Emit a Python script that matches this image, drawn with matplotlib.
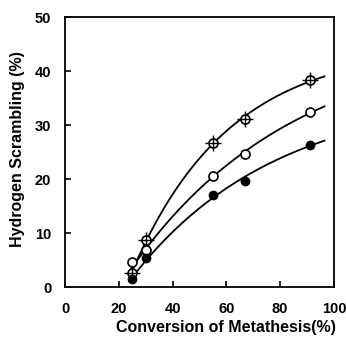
#!/usr/bin/env python3
"""Hydrogen scrambling vs. conversion of metathesis (three runs)."""
import numpy as np
import matplotlib
matplotlib.use("Agg")
import matplotlib.pyplot as plt

conv = [25, 30, 55, 67, 91]
scr_cross = [2.6, 8.8, 26.7, 31.2, 38.3]
scr_open = [4.6, 6.8, 20.6, 24.7, 32.4]
scr_filled = [1.5, 5.3, 17.0, 19.7, 26.4]

x_ticks = [0, 20, 40, 60, 80, 100]
y_ticks = [0, 10, 20, 30, 40, 50]


def fit_curve(x, y, start, stop):
    # saturating fit y = A * (1 - exp(-k (x - x0))), grid over k and x0
    x = np.asarray(x, float)
    y = np.asarray(y, float)
    best = None
    for x0 in np.linspace(20, 24.5, 19):
        for k in np.linspace(0.002, 0.08, 300):
            g = 1 - np.exp(-k * (x - x0))
            A = (g @ y) / (g @ g)
            err = np.sum((A * g - y) ** 2)
            if best is None or err < best[0]:
                best = (err, k, A, x0)
    _, k, A, x0 = best
    xs = np.linspace(max(start, x0), stop, 200)
    return xs, A * (1 - np.exp(-k * (xs - x0)))


fig = plt.figure(figsize=(3.46, 3.41), dpi=100)
ax = fig.add_axes([0.188, 0.158, 0.777, 0.792])
font = {"family": "Liberation Sans", "weight": "bold"}

for ys in (scr_cross, scr_open, scr_filled):
    xs, yc = fit_curve(conv, ys, 24, 96.5)
    ax.plot(xs, yc, color="black", lw=1.3, zorder=2)

ax.plot(conv, scr_cross, "o", ms=6.5, mfc="white", mec="black", mew=1.2, zorder=3)
ax.plot(conv, scr_cross, "+", ms=11, mec="black", mew=1.0, zorder=3)
ax.plot(conv, scr_open, "o", ms=6.5, mfc="white", mec="black", mew=1.2, zorder=3)
ax.plot(conv, scr_filled, "o", ms=6.0, mfc="black", mec="black", zorder=4)

ax.set_xlim(0, 100)
ax.set_ylim(0, 50)
ax.set_xticks(x_ticks)
ax.set_yticks(y_ticks)
ax.set_xticklabels([str(t) for t in x_ticks], **font, fontsize=10.5)
ax.set_yticklabels([str(t) for t in y_ticks], **font, fontsize=10.5)
ax.tick_params(axis="x", direction="in", length=4, width=1.2, pad=11)
ax.tick_params(axis="y", direction="in", length=4, width=1.2, pad=10)
for s in ax.spines.values():
    s.set_linewidth(1.3)

ax.set_xlabel("Conversion of Metathesis(%)", **font, fontsize=11.5)
ax.xaxis.set_label_coords(0.6, -0.12)
ax.set_ylabel("Hydrogen Scrambling (%)", **font, fontsize=11.5)
ax.yaxis.set_label_coords(-0.15, 0.51)

fig.savefig("out.png", dpi=100, facecolor="white")
